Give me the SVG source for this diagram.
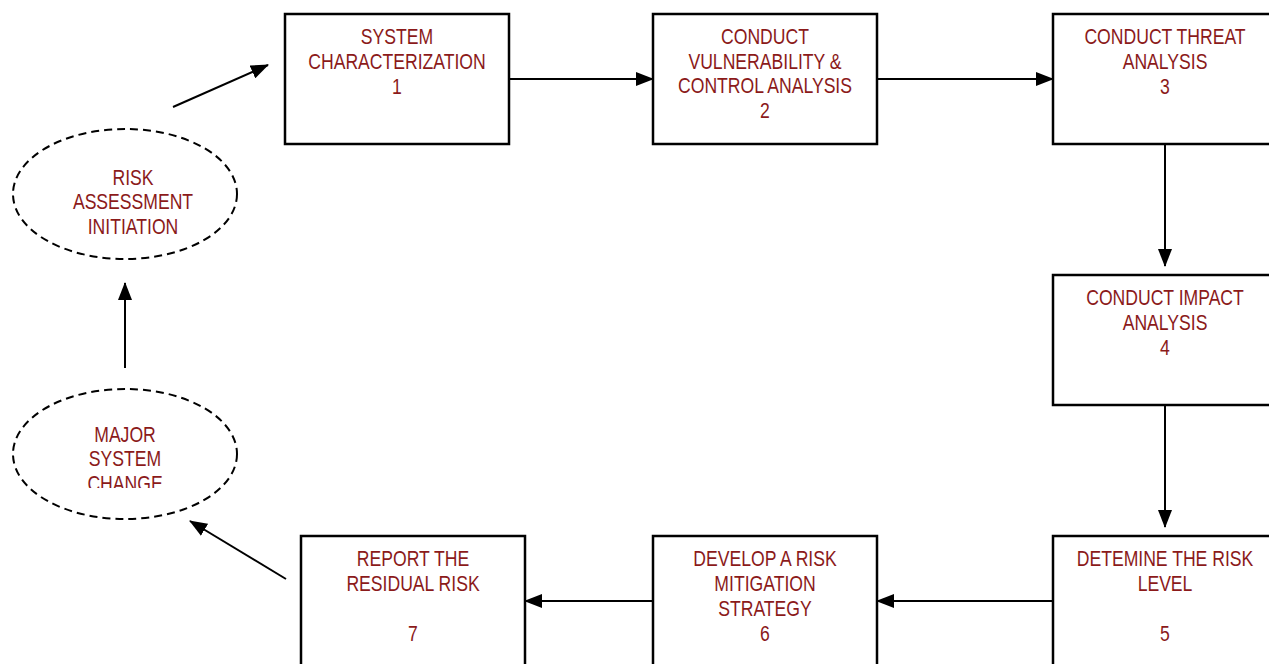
<svg xmlns="http://www.w3.org/2000/svg" width="1269" height="664" viewBox="0 0 1269 664">
<style>
.box{fill:#fff;stroke:#000;stroke-width:2.5}
.ell{fill:#fff;stroke:#000;stroke-width:2;stroke-dasharray:8 5}
.t{font-family:"Liberation Sans",Arial,sans-serif;font-size:22px;fill:#8b1a1a;text-anchor:middle}
</style>
<defs>
<marker id="ah" markerWidth="18" markerHeight="14" refX="17" refY="7" orient="auto" markerUnits="userSpaceOnUse">
<path d="M0,0 L18,7 L0,14 z" fill="#000"/>
</marker>
<clipPath id="clipE2"><rect x="-200" y="400" width="400" height="88"/></clipPath>
</defs>
<g id="connectors" stroke="#000" stroke-width="2" fill="none">
<line x1="173" y1="107" x2="268" y2="65" marker-end="url(#ah)"/>
<line x1="509" y1="79" x2="653" y2="79" marker-end="url(#ah)"/>
<line x1="877" y1="79" x2="1053" y2="79" marker-end="url(#ah)"/>
<line x1="1165" y1="144" x2="1165" y2="266" marker-end="url(#ah)"/>
<line x1="1165" y1="405" x2="1165" y2="527" marker-end="url(#ah)"/>
<line x1="1053" y1="601" x2="877" y2="601" marker-end="url(#ah)"/>
<line x1="653" y1="601" x2="525" y2="601" marker-end="url(#ah)"/>
<line x1="286" y1="579" x2="190" y2="521" marker-end="url(#ah)"/>
<line x1="125" y1="368" x2="125" y2="283" marker-end="url(#ah)"/>
</g>
<g id="n1"><rect class="box" x="285" y="14" width="224" height="130"/>
<g transform="translate(397 0) scale(0.8 1)"><text class="t" x="0" y="44">SYSTEM</text><text class="t" x="0" y="69">CHARACTERIZATION</text><text class="t" x="0" y="94">1</text></g></g>
<g id="n2"><rect class="box" x="653" y="14" width="224" height="130"/>
<g transform="translate(765 0) scale(0.8 1)"><text class="t" x="0" y="44">CONDUCT</text><text class="t" x="0" y="69">VULNERABILITY &amp;</text><text class="t" x="0" y="93">CONTROL ANALYSIS</text><text class="t" x="0" y="118">2</text></g></g>
<g id="n3"><rect class="box" x="1053" y="14" width="224" height="130"/>
<g transform="translate(1165 0) scale(0.8 1)"><text class="t" x="0" y="44">CONDUCT THREAT</text><text class="t" x="0" y="69">ANALYSIS</text><text class="t" x="0" y="94">3</text></g></g>
<g id="n4"><rect class="box" x="1053" y="275" width="224" height="130"/>
<g transform="translate(1165 0) scale(0.8 1)"><text class="t" x="0" y="305">CONDUCT IMPACT</text><text class="t" x="0" y="330">ANALYSIS</text><text class="t" x="0" y="355">4</text></g></g>
<g id="n5"><rect class="box" x="1053" y="536" width="224" height="130"/>
<g transform="translate(1165 0) scale(0.8 1)"><text class="t" x="0" y="566">DETEMINE THE RISK</text><text class="t" x="0" y="591">LEVEL</text><text class="t" x="0" y="641">5</text></g></g>
<g id="n6"><rect class="box" x="653" y="536" width="224" height="130"/>
<g transform="translate(765 0) scale(0.8 1)"><text class="t" x="0" y="566">DEVELOP A RISK</text><text class="t" x="0" y="591">MITIGATION</text><text class="t" x="0" y="616">STRATEGY</text><text class="t" x="0" y="641">6</text></g></g>
<g id="n7"><rect class="box" x="301" y="536" width="224" height="130"/>
<g transform="translate(413 0) scale(0.8 1)"><text class="t" x="0" y="566">REPORT THE</text><text class="t" x="0" y="591">RESIDUAL RISK</text><text class="t" x="0" y="641">7</text></g></g>
<g id="e1"><ellipse class="ell" cx="125" cy="194" rx="112" ry="65"/>
<g transform="translate(133 0) scale(0.8 1)"><text class="t" x="0" y="185">RISK</text><text class="t" x="0" y="209">ASSESSMENT</text><text class="t" x="0" y="234">INITIATION</text></g></g>
<g id="e2"><ellipse class="ell" cx="125" cy="454" rx="112" ry="65"/>
<g transform="translate(125 0) scale(0.8 1)" clip-path="url(#clipE2)"><text class="t" x="0" y="442">MAJOR</text><text class="t" x="0" y="466">SYSTEM</text><text class="t" x="0" y="491">CHANGE</text></g></g>
</svg>
